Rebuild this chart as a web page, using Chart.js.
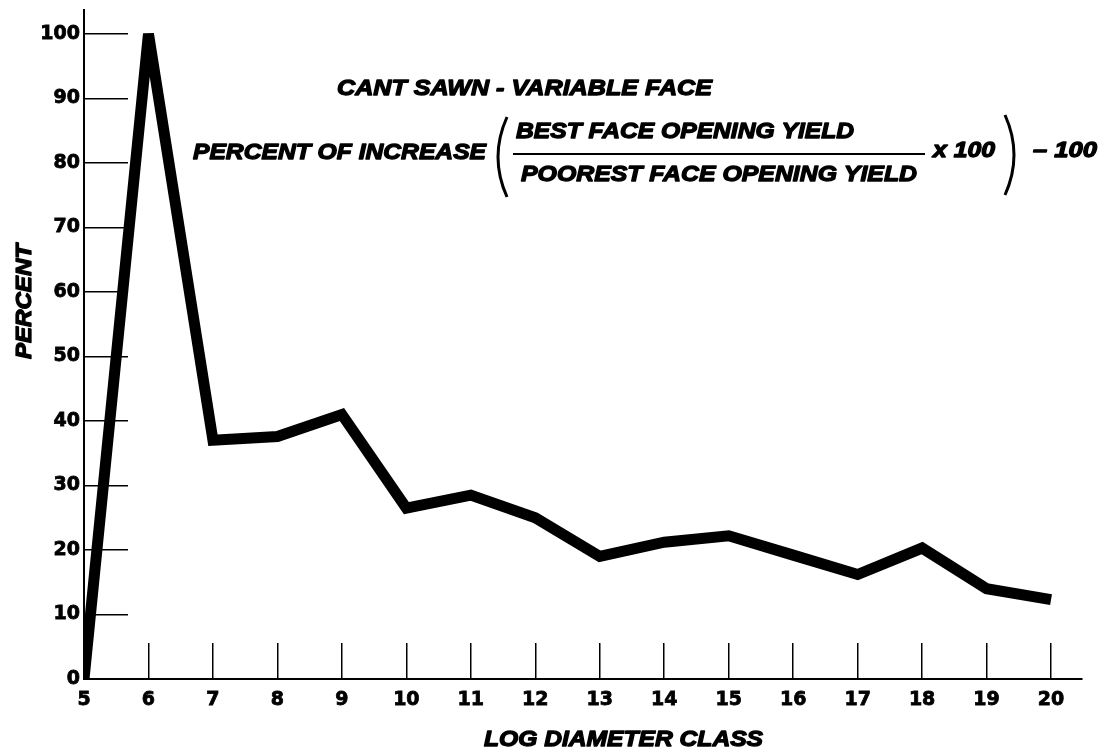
<!DOCTYPE html>
<html>
<head>
<meta charset="utf-8">
<script src="https://cdn.jsdelivr.net/npm/chart.js@4/dist/chart.umd.min.js"></script>
<style>
  html, body { margin: 0; padding: 0; background: #fff; }
  #wrap { width: 1110px; height: 753px; }
</style>
</head>
<body>
<div id="wrap"><canvas id="myChart" width="1110" height="753"></canvas></div>
<script>
// data
const diameterClasses = [5, 6, 7, 8, 9, 10, 11, 12, 13, 14, 15, 16, 17, 18, 19, 20];
const percentIncrease = [0, 100, 37, 37.6, 41, 26.5, 28.5, 25, 19, 21.2, 22.2, 19.2, 16.2, 20.3, 14, 12.3];
const yTickValues = [0, 10, 20, 30, 40, 50, 60, 70, 80, 90, 100];

// text on the figure
const xTitle = "LOG DIAMETER CLASS";
const yTitle = "PERCENT";
const heading = "CANT SAWN - VARIABLE FACE";
const formulaLabel = "PERCENT OF INCREASE";
const numerator = "BEST FACE OPENING YIELD";
const denominator = "POOREST FACE OPENING YIELD";
const times = "x 100";
const minus = "\u2013 100";

const italicFont = "italic bold 22px 'Liberation Sans', Arial, sans-serif";
const tickFont = { family: "'DejaVu Sans', sans-serif", size: 19, weight: "bold" };

// draw text squeezed/stretched to a given width, a bit heavier than the font
function fitText(ctx, str, x, y, w, font) {
  ctx.font = font;
  let m = ctx.measureText(str).width;
  ctx.save();
  ctx.translate(x, y);
  ctx.scale(w / m, 1);
  ctx.lineWidth = 1.3;
  ctx.strokeStyle = "#000";
  ctx.lineJoin = "round";
  ctx.strokeText(str, 0, 0);
  ctx.fillText(str, 0, 0);
  ctx.restore();
}

function paren(ctx, x, top, bottom, dir) {
  // dir = 1 for "(", -1 for ")"
  let mid = (top + bottom) / 2;
  ctx.beginPath();
  ctx.moveTo(x + dir * 8, top);
  ctx.quadraticCurveTo(x - dir * 10, mid, x + dir * 8, bottom);
  ctx.lineWidth = 3;
  ctx.strokeStyle = "#000";
  ctx.stroke();
}

const annotations = {
  id: "annotations",
  beforeDatasetsDraw(chart) {
    // sharp peak gets cut flat like the original
    chart.ctx.miterLimit = 3;
  },
  afterDraw(chart) {
    let ctx = chart.ctx;
    ctx.save();
    ctx.fillStyle = "#000";
    ctx.textAlign = "left";
    ctx.textBaseline = "middle";

    fitText(ctx, heading, 337, 89, 375, italicFont);
    fitText(ctx, formulaLabel, 193, 153, 293, italicFont);
    paren(ctx, 499, 117, 197, 1);
    fitText(ctx, numerator, 516, 132, 338, italicFont);
    ctx.fillRect(513, 153, 412, 2);
    fitText(ctx, denominator, 521, 175, 396, italicFont);
    fitText(ctx, times, 933, 151, 62, italicFont);
    paren(ctx, 1013, 115, 195, -1);
    fitText(ctx, minus, 1033, 151, 64, italicFont);

    // axis titles
    fitText(ctx, xTitle, 484, 740, 279, italicFont);
    ctx.save();
    ctx.translate(25, 302);
    ctx.rotate(-Math.PI / 2);
    fitText(ctx, yTitle, -57, 0, 115, italicFont);
    ctx.restore();

    ctx.restore();
  }
};

let ctx = document.getElementById("myChart").getContext("2d");
let myChart = new Chart(ctx, {
  type: "line",
  data: {
    datasets: [{
      data: diameterClasses.map((d, i) => ({ x: d, y: percentIncrease[i] })),
      borderColor: "#000",
      backgroundColor: "#000",
      borderWidth: 11,
      borderJoinStyle: "miter",
      borderCapStyle: "butt",
      pointRadius: 0,
      tension: 0,
      fill: false
    }]
  },
  options: {
    responsive: false,
    animation: false,
    layout: { padding: { top: 10, right: 28, left: 0, bottom: 0 } },
    plugins: {
      legend: { display: false },
      tooltip: { enabled: false }
    },
    scales: {
      x: {
        type: "linear",
        min: 5,
        max: 20.48,
        afterBuildTicks: s => { s.ticks = diameterClasses.map(v => ({ value: v })); },
        afterFit: s => { s.height = 74; s.paddingLeft = 0; s.paddingRight = 0; },
        grid: { drawOnChartArea: false, tickLength: -36, color: "#000", lineWidth: 1.5 },
        border: { color: "#000", width: 2 },
        ticks: { color: "#000", font: tickFont, padding: 46, maxRotation: 0, autoSkip: false,
                 textStrokeColor: "#000", textStrokeWidth: 0.8 }
      },
      y: {
        min: 0,
        max: 103.7,
        afterBuildTicks: s => { s.ticks = yTickValues.map(v => ({ value: v })); },
        afterFit: s => { s.width = 84; s.paddingTop = 0; s.paddingBottom = 0; },
        grid: { drawOnChartArea: false, tickLength: -44, color: "#000", lineWidth: 1.5 },
        border: { color: "#000", width: 2 },
        ticks: { color: "#000", font: tickFont, padding: 48,
                 textStrokeColor: "#000", textStrokeWidth: 0.8 }
      }
    }
  },
  plugins: [annotations]
});
</script>
</body>
</html>
